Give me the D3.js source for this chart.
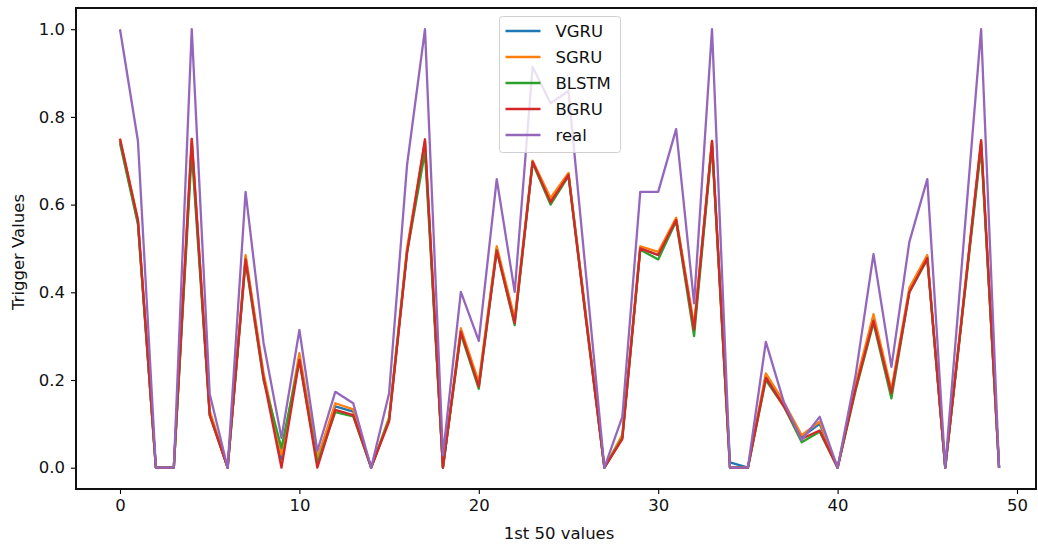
<html lang="en">
<head>
  <meta charset="UTF-8">
  <title>Trigger Values</title>
  <style>
    body { margin: 0; background: #fff; }
    text { font-family: "DejaVu Sans", sans-serif; }
  </style>
</head>
<body>
  <script src="https://d3js.org/d3.v7.min.js"></script>
  <div id="chart"></div>
  <script>
    // values (index 0..49)
    let vgru = [0.745, 0.56, 0, 0, 0.74, 0.125, 0, 0.48, 0.21, 0.02, 0.25, 0.02, 0.14, 0.128, 0, 0.11, 0.495, 0.74, 0, 0.312,
                0.19, 0.5, 0.335, 0.698, 0.61, 0.67, 0.335, 0, 0.07, 0.5, 0.485, 0.567, 0.318, 0.742, 0.012, 0, 0.21, 0.145, 0.07, 0.1,
                0, 0.185, 0.34, 0.172, 0.405, 0.48, 0, 0.37, 0.74, 0];
    let sgru = [0.75, 0.565, 0, 0, 0.75, 0.13, 0, 0.485, 0.215, 0.03, 0.261, 0.02, 0.147, 0.133, 0, 0.115, 0.5, 0.745, 0, 0.318,
                0.195, 0.505, 0.34, 0.7, 0.615, 0.672, 0.34, 0, 0.075, 0.505, 0.492, 0.57, 0.325, 0.745, 0, 0, 0.215, 0.15, 0.074, 0.105,
                0, 0.19, 0.35, 0.178, 0.41, 0.485, 0, 0.375, 0.745, 0];
    let blstm = [0.74, 0.555, 0, 0, 0.72, 0.12, 0, 0.47, 0.2, 0.045, 0.245, 0.01, 0.127, 0.117, 0, 0.11, 0.49, 0.72, 0, 0.305,
                 0.18, 0.495, 0.325, 0.695, 0.6, 0.665, 0.33, 0, 0.068, 0.497, 0.475, 0.562, 0.3, 0.735, 0, 0, 0.2, 0.14, 0.058, 0.082,
                 0, 0.175, 0.33, 0.158, 0.4, 0.475, 0, 0.365, 0.73, 0];
    let bgru = [0.75, 0.565, 0, 0, 0.75, 0.12, 0, 0.475, 0.205, 0, 0.246, 0, 0.132, 0.12, 0, 0.105, 0.49, 0.749, 0, 0.31,
                0.185, 0.495, 0.33, 0.698, 0.605, 0.668, 0.33, 0, 0.065, 0.5, 0.485, 0.565, 0.315, 0.745, 0, 0, 0.205, 0.14, 0.066, 0.085,
                0, 0.18, 0.335, 0.17, 0.4, 0.478, 0, 0.37, 0.747, 0];
    let real = [1.0, 0.745, 0, 0, 1.0, 0.168, 0, 0.629, 0.285, 0.068, 0.314, 0.038, 0.173, 0.147, 0, 0.17, 0.69, 1.0, 0.028, 0.401,
                0.289, 0.658, 0.401, 0.914, 0.831, 0.859, 0.43, 0, 0.116, 0.629, 0.629, 0.772, 0.375, 1.0, 0, 0, 0.287, 0.15, 0.063, 0.116,
                0, 0.21, 0.487, 0.23, 0.515, 0.658, 0, 0.5, 1.0, 0];

    let series_names = ["VGRU", "SGRU", "BLSTM", "BGRU", "real"];
    let series_colors = ["#1f77b4", "#ff7f0e", "#2ca02c", "#d62728", "#9467bd"];
    let series_values = [vgru, sgru, blstm, bgru, real];

    let x_ticks = [0, 10, 20, 30, 40, 50];
    let y_ticks = [0.0, 0.2, 0.4, 0.6, 0.8, 1.0];

    function translate(x, y) { return 'translate(' + x + ',' + y + ')'; }

    // plot frame in page pixels
    let frame = { left: 76, right: 1036, top: 8, bottom: 489 };
    let font_size = "16.5px";

    let svg = d3.select("#chart")
      .append("svg")
        .attr("width", 1038)
        .attr("height", 544);

    let x = d3.scaleLinear().domain([0, 50]).range([120, 1017]);
    let y = d3.scaleLinear().domain([0, 1]).range([467.7, 29.2]);

    // axes
    let xAxis = svg.append("g")
      .attr("transform", translate(0, frame.bottom))
      .call(d3.axisBottom(x).tickValues(x_ticks).tickFormat(d3.format("d")).tickSize(5).tickPadding(5));
    let yAxis = svg.append("g")
      .attr("transform", translate(frame.left, 0))
      .call(d3.axisLeft(y).tickValues(y_ticks).tickFormat(d3.format(".1f")).tickSize(5).tickPadding(6));

    [xAxis, yAxis].forEach(ax => {
      ax.select(".domain").remove();
      ax.selectAll("line").attr("stroke", "#000").attr("stroke-width", 1.1);
      ax.selectAll("text")
        .attr("fill", "#111")
        .style("font-size", font_size)
        .style("font-family", "DejaVu Sans");
    });

    // lines
    let line = d3.line()
      .x((d, i) => x(i))
      .y(d => y(d));

    series_values.forEach((vals, k) => {
      svg.append("path")
        .datum(vals)
        .attr("fill", "none")
        .attr("stroke", series_colors[k])
        .attr("stroke-width", 2.3)
        .attr("stroke-linejoin", "round")
        .attr("stroke-linecap", "butt")
        .attr("d", line);
    });

    // frame
    svg.append("rect")
      .attr("x", frame.left)
      .attr("y", frame.top)
      .attr("width", frame.right - frame.left)
      .attr("height", frame.bottom - frame.top)
      .attr("fill", "none")
      .attr("stroke", "#111")
      .attr("stroke-width", 1.1)
      .style("shape-rendering", "crispEdges");

    // axis labels
    svg.append("text")
      .attr("x", 559)
      .attr("y", 539)
      .attr("text-anchor", "middle")
      .attr("fill", "#111")
      .style("font-size", font_size)
      .text("1st 50 values");

    svg.append("text")
      .attr("transform", translate(24, 252) + " rotate(-90)")
      .attr("text-anchor", "middle")
      .attr("fill", "#111")
      .style("font-size", font_size)
      .text("Trigger Values");

    // legend
    let legend = svg.append("g").attr("transform", translate(499.5, 16.5));

    legend.append("rect")
      .attr("width", 121)
      .attr("height", 136)
      .attr("rx", 3)
      .attr("fill", "#fff")
      .attr("fill-opacity", 0.8)
      .attr("stroke", "#d0d0d0")
      .attr("stroke-width", 1);

    series_names.forEach((name, k) => {
      let row = legend.append("g").attr("transform", translate(0, 14.5 + k * 26));
      row.append("line")
        .attr("x1", 6)
        .attr("x2", 41)
        .attr("stroke", series_colors[k])
        .attr("stroke-width", 2.3);
      row.append("text")
        .attr("x", 56)
        .attr("dy", "0.35em")
        .attr("fill", "#111")
        .style("font-size", font_size)
        .text(name);
    });
  </script>
</body>
</html>
